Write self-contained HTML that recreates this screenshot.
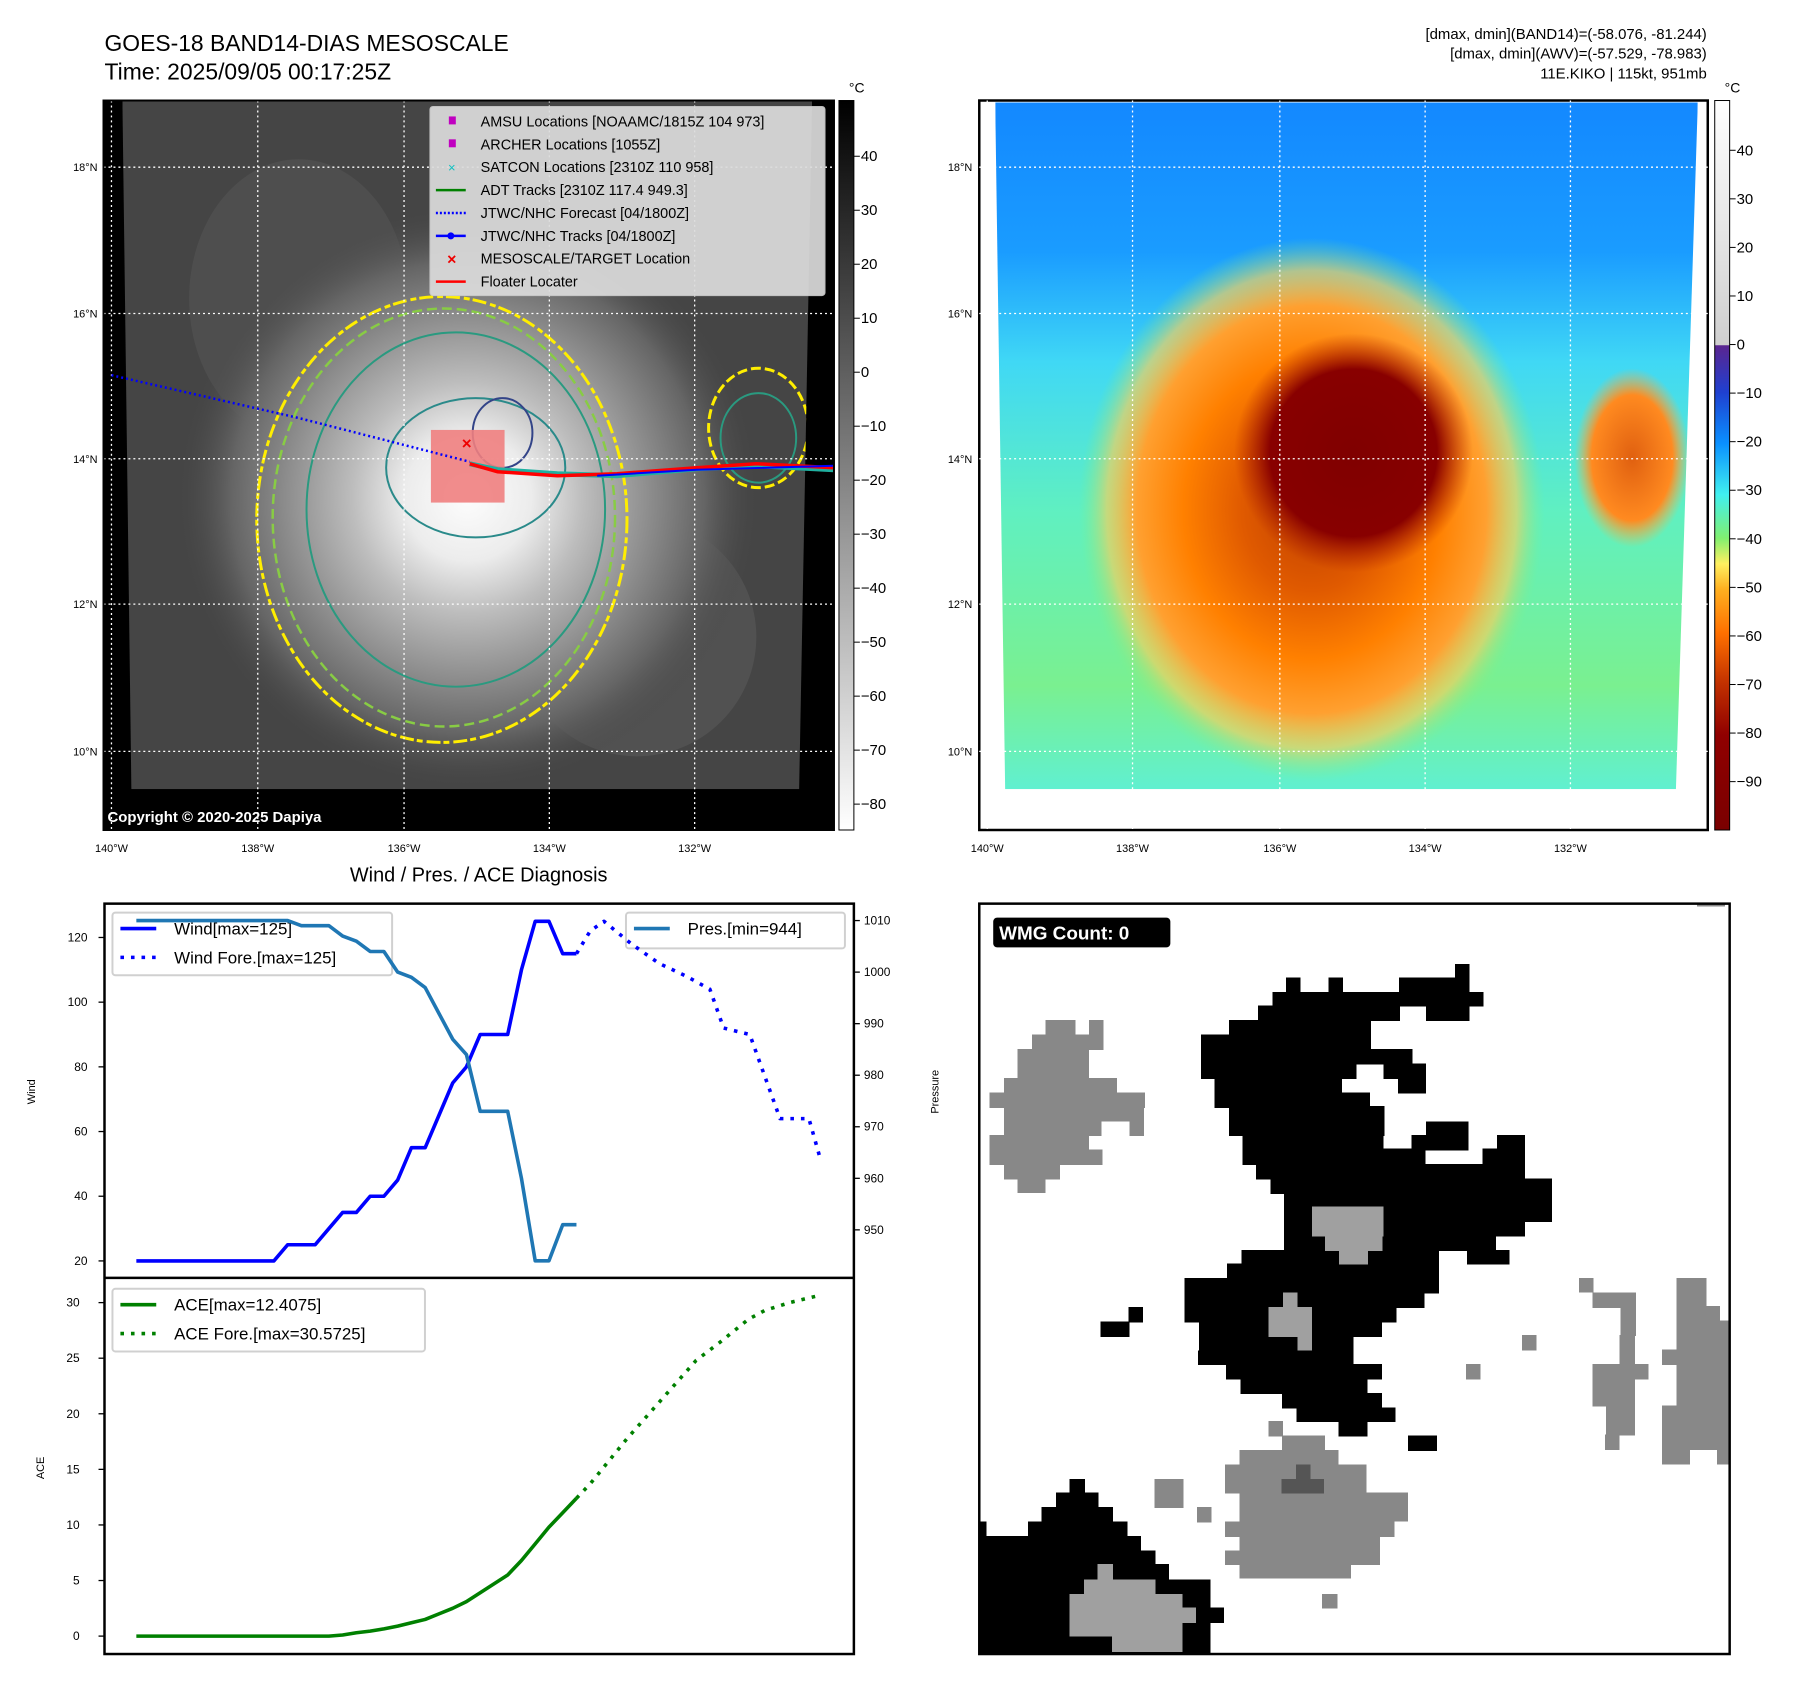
<!DOCTYPE html>
<html><head><meta charset="utf-8"><style>
html,body{margin:0;padding:0;background:#fff;}
svg{display:block;font-family:"Liberation Sans","DejaVu Sans",sans-serif;}
</style></head><body>
<svg id="root" width="1797" height="1690" viewBox="0 0 1797 1690" xmlns="http://www.w3.org/2000/svg">
<defs>
<linearGradient id="cbGray" x1="0" y1="0" x2="0" y2="1"><stop offset="0" stop-color="#000"/><stop offset="1" stop-color="#fff"/></linearGradient>
<linearGradient id="cbJet" x1="0" y1="0" x2="0" y2="1">
<stop offset="0" stop-color="#ffffff"/><stop offset="0.335" stop-color="#cfcfcf"/>
<stop offset="0.336" stop-color="#5a2590"/><stop offset="0.40" stop-color="#1f40d0"/>
<stop offset="0.47" stop-color="#0a90ff"/><stop offset="0.54" stop-color="#40f0f0"/>
<stop offset="0.60" stop-color="#80f070"/><stop offset="0.635" stop-color="#fff060"/>
<stop offset="0.67" stop-color="#ffb020"/><stop offset="0.73" stop-color="#ff7000"/>
<stop offset="0.80" stop-color="#c03000"/><stop offset="0.87" stop-color="#900000"/>
<stop offset="1" stop-color="#7a0000"/></linearGradient>
<radialGradient id="stormGray" cx="470" cy="500" r="290" gradientUnits="userSpaceOnUse">
<stop offset="0" stop-color="#fdfdfd"/><stop offset="0.22" stop-color="#ececec"/>
<stop offset="0.4" stop-color="#bdbdbd"/><stop offset="0.6" stop-color="#939393"/>
<stop offset="0.82" stop-color="#656565"/>
<stop offset="1" stop-color="#4a4a4a" stop-opacity="0"/></radialGradient>
<linearGradient id="bgRight" x1="0" y1="0" x2="0" y2="1">
<stop offset="0" stop-color="#1388ff"/><stop offset="0.22" stop-color="#1a9cff"/>
<stop offset="0.38" stop-color="#40d8f5"/><stop offset="0.6" stop-color="#60f0c0"/>
<stop offset="0.85" stop-color="#7af090"/><stop offset="1" stop-color="#60f0d0"/></linearGradient>
<radialGradient id="stormJet" cx="1318" cy="512" r="260" gradientUnits="userSpaceOnUse" gradientTransform="translate(1318 512) scale(0.9 1.05) translate(-1318 -512)">
<stop offset="0" stop-color="#c04000"/><stop offset="0.3" stop-color="#e05a00"/>
<stop offset="0.55" stop-color="#ff8000"/><stop offset="0.75" stop-color="#ffa030"/>
<stop offset="0.88" stop-color="#f0d060" stop-opacity="0.7"/>
<stop offset="1" stop-color="#80f080" stop-opacity="0"/></radialGradient>
<radialGradient id="eyeJet" cx="1360" cy="455" r="120" gradientUnits="userSpaceOnUse">
<stop offset="0" stop-color="#800000"/><stop offset="0.7" stop-color="#880000"/><stop offset="1" stop-color="#b02000" stop-opacity="0"/></radialGradient>
<radialGradient id="blobJet" cx="0.5" cy="0.5" r="0.5">
<stop offset="0" stop-color="#e06010"/><stop offset="0.7" stop-color="#ff8a20"/><stop offset="1" stop-color="#ffb040" stop-opacity="0"/></radialGradient>
<clipPath id="clipL"><polygon points="123,101 816,101 803,793 132,793"/></clipPath>
<clipPath id="clipR"><polygon points="1000,103 1706,103 1684,793 1010,793"/></clipPath>
</defs>
<g transform="scale(0.9952)">

<!-- titles -->
<text x="105" y="51" font-size="23">GOES-18 BAND14-DIAS MESOSCALE</text>
<text x="105" y="80" font-size="23">Time: 2025/09/05 00:17:25Z</text>
<g font-size="15" text-anchor="end">
<text x="1715" y="39">[dmax, dmin](BAND14)=(-58.076, -81.244)</text>
<text x="1715" y="59">[dmax, dmin](AWV)=(-57.529, -78.983)</text>
<text x="1715" y="79">11E.KIKO | 115kt, 951mb</text></g>

<!-- LEFT MAP -->
<g>
<rect x="104" y="101" width="734" height="733" fill="#000"/>
<g clip-path="url(#clipL)">
<rect x="123" y="101" width="693" height="692" fill="#454545"/>
<ellipse cx="300" cy="300" rx="110" ry="140" fill="#555" opacity="0.6"/>
<ellipse cx="640" cy="640" rx="120" ry="120" fill="#5e5e5e" opacity="0.5"/>
<rect x="123" y="101" width="693" height="692" fill="url(#stormGray)"/>
<ellipse cx="444" cy="522" rx="186" ry="224" fill="none" stroke="#ffee00" stroke-width="3" stroke-dasharray="14 4 6 3"/>
<ellipse cx="446" cy="520" rx="172" ry="210" fill="none" stroke="#88cc44" stroke-width="2.5" stroke-dasharray="10 5"/>
<ellipse cx="458" cy="512" rx="150" ry="178" fill="none" stroke="#2a9a80" stroke-width="2"/>
<ellipse cx="478" cy="470" rx="90" ry="70" fill="none" stroke="#2a8a8a" stroke-width="2"/>
<ellipse cx="762" cy="430" rx="50" ry="60" fill="none" stroke="#ffee00" stroke-width="3" stroke-dasharray="10 4"/>
<ellipse cx="762" cy="440" rx="38" ry="45" fill="none" stroke="#2a9a80" stroke-width="2"/>
<ellipse cx="505" cy="435" rx="30" ry="35" fill="none" stroke="#334488" stroke-width="2"/>
</g>
<g stroke="#fff" stroke-width="1.3" stroke-dasharray="2 3" fill="none">
<line x1="112" y1="101" x2="112" y2="834"/><line x1="259" y1="101" x2="259" y2="834"/><line x1="406" y1="101" x2="406" y2="834"/><line x1="552" y1="101" x2="552" y2="834"/><line x1="698" y1="101" x2="698" y2="834"/>
<line x1="104" y1="168" x2="838" y2="168"/><line x1="104" y1="315" x2="838" y2="315"/><line x1="104" y1="461" x2="838" y2="461"/><line x1="104" y1="607" x2="838" y2="607"/><line x1="104" y1="755" x2="838" y2="755"/></g>
<rect x="433" y="432" width="74" height="73" fill="#f08080" opacity="0.9"/>
<polyline points="112,377 300,420 472,464" fill="none" stroke="#0000ff" stroke-width="2.5" stroke-dasharray="2 3"/>
<polyline points="472,466 500,472 560,476 620,478 700,471 760,468 838,472" fill="none" stroke="#1fb0a0" stroke-width="5"/>
<polyline points="472,466 500,474 560,478 620,476 700,470 760,466 838,470" fill="none" stroke="#ff0000" stroke-width="3.5"/>
<polyline points="600,478 700,472 838,468" fill="none" stroke="#0000ff" stroke-width="2"/>
<text x="469" y="451" font-size="17" fill="#e00" font-weight="bold" text-anchor="middle">×</text>
<rect x="432" y="107" width="397" height="190" fill="#dcdcdc" opacity="0.92" rx="3" stroke="#ccc"/>
<g font-size="14.5">
<rect x="451" y="117" width="7" height="8" fill="#c000c0"/><text x="483" y="127">AMSU Locations [NOAAMC/1815Z 104 973]</text>
<rect x="451" y="140" width="7" height="8" fill="#c000c0"/><text x="483" y="150">ARCHER Locations [1055Z]</text>
<text x="454" y="173" fill="#10c0c0" text-anchor="middle" font-size="13">×</text><text x="483" y="173">SATCON Locations [2310Z 110 958]</text>
<line x1="438" y1="191" x2="468" y2="191" stroke="#008000" stroke-width="2.5"/><text x="483" y="196">ADT Tracks [2310Z 117.4 949.3]</text>
<line x1="438" y1="214" x2="468" y2="214" stroke="#0000ff" stroke-width="2.5" stroke-dasharray="2 2"/><text x="483" y="219">JTWC/NHC Forecast [04/1800Z]</text>
<line x1="438" y1="237" x2="468" y2="237" stroke="#0000ff" stroke-width="2.5"/><circle cx="453" cy="237" r="3.5" fill="#0000ff"/><text x="483" y="242">JTWC/NHC Tracks [04/1800Z]</text>
<text x="454" y="266" fill="#e00" text-anchor="middle" font-weight="bold" font-size="16">×</text><text x="483" y="265">MESOSCALE/TARGET Location</text>
<line x1="438" y1="283" x2="468" y2="283" stroke="#ff0000" stroke-width="2.5"/><text x="483" y="288">Floater Locater</text></g>
<text x="108" y="826" font-size="15" font-weight="bold" fill="#fff">Copyright © 2020-2025 Dapiya</text>
<rect x="104" y="101" width="734" height="733" fill="none" stroke="#000" stroke-width="2"/>
</g>
<rect x="843" y="101" width="15" height="733" fill="url(#cbGray)" stroke="#000" stroke-width="1"/>
<text x="853" y="93" font-size="14">°C</text>
<g id="cbL" font-size="15"></g>

<!-- RIGHT MAP -->
<g>
<rect x="984" y="101" width="732" height="733" fill="#fff" stroke="#000" stroke-width="2.5"/>
<g clip-path="url(#clipR)">
<rect x="1000" y="101" width="706" height="692" fill="url(#bgRight)"/>
<ellipse cx="1318" cy="512" rx="240" ry="275" fill="url(#stormJet)"/>
<ellipse cx="1640" cy="460" rx="58" ry="90" fill="url(#blobJet)"/>
<ellipse cx="1360" cy="455" rx="120" ry="120" fill="url(#eyeJet)"/>
</g>
<g stroke="#fff" stroke-width="1.3" stroke-dasharray="2 3">
<line x1="992" y1="101" x2="992" y2="834"/><line x1="1138" y1="101" x2="1138" y2="834"/><line x1="1286" y1="101" x2="1286" y2="834"/><line x1="1432" y1="101" x2="1432" y2="834"/><line x1="1578" y1="101" x2="1578" y2="834"/>
<line x1="984" y1="168" x2="1716" y2="168"/><line x1="984" y1="315" x2="1716" y2="315"/><line x1="984" y1="461" x2="1716" y2="461"/><line x1="984" y1="607" x2="1716" y2="607"/><line x1="984" y1="755" x2="1716" y2="755"/></g>
</g>
<rect x="1723" y="101" width="15" height="733" fill="url(#cbJet)" stroke="#000" stroke-width="1"/>
<text x="1733" y="93" font-size="14">°C</text>
<g id="cbR" font-size="15"></g>
<g id="mapTicks" font-size="11"></g>

<!-- DIAGNOSIS CHART -->
<text x="481" y="886" font-size="20" text-anchor="middle">Wind / Pres. / ACE Diagnosis</text>
<g id="diag"></g>

<!-- WMG PANEL -->
<g>
<rect x="984" y="908" width="754" height="754" fill="#fff"/>
<svg x="984" y="908" width="754" height="754" viewBox="0 0 1553 1553" shape-rendering="crispEdges">
<g fill="#000" stroke="#000" stroke-width="2">
<rect x="608" y="184" width="262" height="58"/><rect x="636" y="154" width="28" height="30"/><rect x="724" y="154" width="28" height="30"/><rect x="870" y="154" width="144" height="58"/><rect x="986" y="126" width="28" height="28"/><rect x="1014" y="184" width="29" height="28"/><rect x="926" y="212" width="88" height="30"/><rect x="578" y="212" width="30" height="30"/>
<rect x="518" y="242" width="292" height="30"/><rect x="460" y="272" width="350" height="30"/><rect x="460" y="302" width="436" height="30"/><rect x="460" y="332" width="320" height="30"/><rect x="838" y="332" width="86" height="30"/><rect x="488" y="362" width="262" height="30"/><rect x="868" y="362" width="56" height="30"/><rect x="488" y="392" width="320" height="30"/><rect x="518" y="420" width="320" height="60"/><rect x="926" y="452" width="86" height="56"/>
<rect x="546" y="480" width="290" height="30"/><rect x="896" y="480" width="116" height="30"/><rect x="1072" y="480" width="56" height="30"/><rect x="546" y="508" width="376" height="32"/><rect x="1042" y="508" width="86" height="32"/><rect x="574" y="540" width="554" height="30"/><rect x="604" y="570" width="580" height="30"/><rect x="632" y="600" width="552" height="58"/><rect x="632" y="658" width="496" height="30"/><rect x="632" y="688" width="436" height="30"/><rect x="1010" y="718" width="86" height="28"/>
<rect x="544" y="718" width="406" height="30"/><rect x="514" y="746" width="436" height="30"/><rect x="426" y="776" width="524" height="30"/><rect x="426" y="806" width="494" height="30"/><rect x="426" y="836" width="436" height="30"/><rect x="456" y="866" width="376" height="30"/><rect x="456" y="896" width="318" height="30"/><rect x="454" y="926" width="320" height="28"/><rect x="512" y="954" width="320" height="30"/><rect x="542" y="984" width="260" height="30"/><rect x="628" y="1014" width="204" height="30"/><rect x="658" y="1044" width="202" height="28"/><rect x="744" y="1072" width="58" height="30"/><rect x="888" y="1102" width="58" height="30"/>
<rect x="310" y="836" width="28" height="30"/><rect x="252" y="866" width="58" height="30"/>
<rect x="188" y="1192" width="30" height="30"/><rect x="160" y="1220" width="86" height="30"/><rect x="130" y="1250" width="146" height="30"/><rect x="102" y="1280" width="204" height="30"/><rect x="0" y="1280" width="14" height="30"/><rect x="0" y="1310" width="334" height="30"/><rect x="0" y="1340" width="364" height="30"/><rect x="0" y="1368" width="392" height="32"/><rect x="0" y="1400" width="478" height="30"/><rect x="0" y="1430" width="478" height="30"/><rect x="0" y="1458" width="506" height="30"/><rect x="0" y="1488" width="478" height="65"/></g>
<g fill="#a0a0a0" stroke="#a0a0a0" stroke-width="2">
<rect x="690" y="628" width="146" height="60"/><rect x="716" y="688" width="118" height="30"/><rect x="746" y="716" width="58" height="30"/><rect x="600" y="836" width="88" height="60"/><rect x="630" y="806" width="28" height="30"/><rect x="660" y="896" width="28" height="28"/>
<rect x="246" y="1368" width="30" height="32"/><rect x="218" y="1400" width="146" height="30"/><rect x="188" y="1430" width="232" height="30"/><rect x="188" y="1458" width="260" height="30"/><rect x="188" y="1488" width="232" height="28"/><rect x="276" y="1516" width="144" height="32"/></g>
<g fill="#888" stroke="#888" stroke-width="2">
<rect x="138" y="242" width="60" height="30"/><rect x="228" y="242" width="28" height="30"/><rect x="110" y="272" width="146" height="30"/><rect x="80" y="302" width="146" height="60"/><rect x="52" y="362" width="232" height="30"/><rect x="22" y="392" width="320" height="30"/><rect x="52" y="422" width="288" height="28"/><rect x="52" y="450" width="200" height="30"/><rect x="312" y="450" width="28" height="30"/><rect x="22" y="480" width="204" height="30"/><rect x="22" y="510" width="232" height="30"/><rect x="52" y="540" width="114" height="30"/><rect x="80" y="570" width="56" height="28"/>
<rect x="600" y="1072" width="28" height="30"/><rect x="628" y="1102" width="86" height="30"/><rect x="540" y="1132" width="202" height="30"/><rect x="510" y="1162" width="290" height="58"/><rect x="540" y="1220" width="318" height="30"/><rect x="858" y="1220" width="28" height="58"/><rect x="540" y="1250" width="318" height="30"/><rect x="510" y="1280" width="348" height="30"/><rect x="540" y="1310" width="288" height="30"/><rect x="510" y="1340" width="318" height="28"/><rect x="540" y="1368" width="228" height="28"/>
<rect x="364" y="1192" width="58" height="58"/><rect x="452" y="1250" width="28" height="30"/><rect x="710" y="1430" width="30" height="28"/><rect x="1124" y="894" width="28" height="30"/><rect x="1008" y="954" width="28" height="30"/>
<rect x="1242" y="776" width="28" height="28"/><rect x="1270" y="806" width="88" height="30"/><rect x="1328" y="836" width="30" height="58"/><rect x="1326" y="894" width="30" height="60"/><rect x="1270" y="954" width="114" height="30"/><rect x="1270" y="984" width="86" height="56"/><rect x="1298" y="1040" width="58" height="60"/><rect x="1296" y="1100" width="28" height="30"/>
<rect x="1444" y="776" width="60" height="58"/><rect x="1444" y="834" width="88" height="30"/><rect x="1444" y="864" width="110" height="60"/><rect x="1414" y="924" width="140" height="30"/><rect x="1444" y="954" width="110" height="88"/><rect x="1414" y="1040" width="140" height="30"/><rect x="1414" y="1070" width="140" height="60"/><rect x="1414" y="1130" width="56" height="30"/><rect x="1528" y="1130" width="26" height="30"/><rect x="1486" y="0" width="56" height="5"/></g>
<g fill="#555" stroke="#555" stroke-width="2"><rect x="656" y="1162" width="28" height="30"/><rect x="626" y="1192" width="86" height="28"/></g>
</svg>
<rect x="984" y="908" width="754" height="754" fill="none" stroke="#000" stroke-width="2.5"/>
<rect x="998" y="922" width="178" height="30" rx="4" fill="#000"/>
<text x="1004" y="944" font-size="19" font-weight="bold" fill="#fff">WMG Count: 0</text>
</g>
</g>

<script>
// ---- Diagnosis chart data ----
const windHistIdx = [0,1,2,3,4,5,6,7,8,9,10,11,12,13,14,15,16,17,18,19,20,21,22,23,24,25,26,27,28,29,30,31,32];
const windHist = [20,20,20,20,20,20,20,20,20,20,20,25,25,25,30,35,35,40,40,45,55,55,65,75,80,90,90,90,110,125,125,115,115];
const windForeIdx = [32,33,34,36,38,40,41.7,42.7,44.6,46.8,48.9,49.7];
const windFore = [115,122,125,118,112,108,104,92,90,64,64,52];
const presHist = [1010,1010,1010,1010,1010,1010,1010,1010,1010,1010,1010,1010,1009,1009,1009,1007,1006,1004,1004,1000,999,997,992,987,984,973,973,973,960,944,944,951,951];
const aceHist = [0,0,0,0,0,0,0,0,0,0,0,0,0,0,0,0.1,0.3,0.45,0.65,0.9,1.2,1.5,2.0,2.5,3.1,3.9,4.7,5.5,6.8,8.3,9.8,11.1,12.4];
const aceForeIdx = [32,33,35.7,38.2,40.7,42.4,44.5,45.7,47.5,49.5];
const aceFore = [12.4,13.7,17.8,21.3,24.8,26.4,28.5,29.3,30.0,30.6];
const windTicks = [20,40,60,80,100,120];
const presTicks = [950,960,970,980,990,1000,1010];
const aceTicks = [0,5,10,15,20,25,30];
const irTicks = [40,30,20,10,0,-10,-20,-30,-40,-50,-60,-70,-80];
const jetTicks = [40,30,20,10,0,-10,-20,-30,-40,-50,-60,-70,-80,-90];
const lonTicks = ["140°W","138°W","136°W","134°W","132°W"];
const latTicks = ["18°N","16°N","14°N","12°N","10°N"];

const NS = "http://www.w3.org/2000/svg";
const xIdx = i => 137 + 13.82 * i;
const yWind = v => 942 + (120 - v) * 3.25;
const yPres = p => 925 + (1010 - p) * 5.18;
const yAce = a => 1644 - a * 11.17;
const yIr = t => 157 + (40 - t) * 5.425;
const yJet = t => 151 + (40 - t) * 4.88;
function mk(tag, attrs, parent) {
  const e = document.createElementNS(NS, tag);
  for (const k in attrs) e.setAttribute(k, attrs[k]);
  parent.appendChild(e);
  return e;
}
function label(parent, x, y, txt, anchor, size) {
  const t = mk("text", {x: x, y: y, "text-anchor": anchor, "font-size": size}, parent);
  t.textContent = txt;
  return t;
}
const fmt = v => String(v).replace("-", "\u2212");

const cbL = document.getElementById("cbL");
irTicks.forEach(t => {
  const y = yIr(t);
  mk("line", {x1: 858, y1: y, x2: 864, y2: y, stroke: "#000"}, cbL);
  const l = label(cbL, 865, y + 5, fmt(t), "start", 15);
  
  
});
const cbR = document.getElementById("cbR");
jetTicks.forEach(t => {
  const y = yJet(t);
  mk("line", {x1: 1738, y1: y, x2: 1744, y2: y, stroke: "#000"}, cbR);
  const l = label(cbR, 1745, y + 5, fmt(t), "start", 15);
  
  
});
const mt = document.getElementById("mapTicks");
const lonL = [112,259,406,552,698], lonR = [992,1138,1286,1432,1578], latY = [168,315,461,607,755];
lonTicks.forEach((s, k) => {
  const a = label(mt, lonL[k], 856, s, "middle", 11);
  
  
  const b = label(mt, lonR[k], 856, s, "middle", 11);
  
  
});
latTicks.forEach((s, k) => {
  const a = label(mt, 98, latY[k] + 4, s, "end", 11);
  
  
  const b = label(mt, 977, latY[k] + 4, s, "end", 11);
  
  
});

const g = document.getElementById("diag");
function poly(xs, ys, color, dash, name) {
  const p = mk("polyline", {points: xs.map((x, i) => x + "," + ys[i]).join(" "), fill: "none", stroke: color, "stroke-width": 3.6, "stroke-linejoin": "round"}, g);
  if (dash) p.setAttribute("stroke-dasharray", dash);
  
  
  return p;
}
mk("rect", {x: 105, y: 908, width: 753, height: 754, fill: "#fff"}, g);
windTicks.forEach(v => {
  const y = yWind(v);
  mk("line", {x1: 99, y1: y, x2: 105, y2: y, stroke: "#000", "stroke-width": 1.3}, g);
  const t = label(g, 88, y + 4, String(v), "end", 12);
  
  
});
presTicks.forEach(v => {
  const y = yPres(v);
  mk("line", {x1: 858, y1: y, x2: 864, y2: y, stroke: "#000", "stroke-width": 1.3}, g);
  const t = label(g, 868, y + 4, String(v), "start", 12);
  
  
});
aceTicks.forEach(v => {
  const y = yAce(v);
  mk("line", {x1: 99, y1: y, x2: 105, y2: y, stroke: "#000", "stroke-width": 1.3}, g);
  const t = label(g, 80, y + 4, String(v), "end", 12);
  
  
});
const wl = label(g, 0, 0, "Wind", "middle", 11);
wl.setAttribute("transform", "translate(35 1097) rotate(-90)");


const pl = label(g, 0, 0, "Pressure", "middle", 11);
pl.setAttribute("transform", "translate(943 1097) rotate(-90)");


const al = label(g, 0, 0, "ACE", "middle", 11);
al.setAttribute("transform", "translate(44 1475) rotate(-90)");



function legend(x, y, w, h, items, name) {
  const lg = mk("g", {}, g);
  
  
  mk("rect", {x: x, y: y, width: w, height: h, rx: 3, fill: "#fff", "fill-opacity": 0.8, stroke: "#d0d0d0", "stroke-width": 2}, lg);
  items.forEach((it, k) => {
    const cy = y + 16 + k * 29;
    const ln = mk("line", {x1: x + 8, y1: cy, x2: x + 44, y2: cy, stroke: it[1], "stroke-width": 3.6}, lg);
    if (it[2]) ln.setAttribute("stroke-dasharray", "3.6 7");
    label(lg, x + 62, cy + 6, it[0], "start", 17);
  });
}
legend(113, 917, 281, 63, [["Wind[max=125]", "#0000ff", 0], ["Wind Fore.[max=125]", "#0000ff", 1]], "wind-legend");
legend(629, 917, 220, 36, [["Pres.[min=944]", "#1f77b4", 0]], "pressure-legend");
legend(113, 1295, 314, 63, [["ACE[max=12.4075]", "#008000", 0], ["ACE Fore.[max=30.5725]", "#008000", 1]], "ace-legend");

poly(windHistIdx.map(xIdx), windHist.map(yWind), "#0000ff", null, "wind-line");
poly(windForeIdx.map(xIdx), windFore.map(yWind), "#0000ff", "3.6 7", "wind-forecast-line");
poly(windHistIdx.map(xIdx), presHist.map(yPres), "#1f77b4", null, "pressure-line");
poly(windHistIdx.map(xIdx), aceHist.map(yAce), "#008000", null, "ace-line");
poly(aceForeIdx.map(xIdx), aceFore.map(yAce), "#008000", "3.6 7", "ace-forecast-line");

mk("rect", {x: 105, y: 908, width: 753, height: 754, fill: "none", stroke: "#000", "stroke-width": 2.5}, g);
mk("line", {x1: 105, y1: 1284, x2: 858, y2: 1284, stroke: "#000", "stroke-width": 2.5}, g);
</script>
</body></html>
